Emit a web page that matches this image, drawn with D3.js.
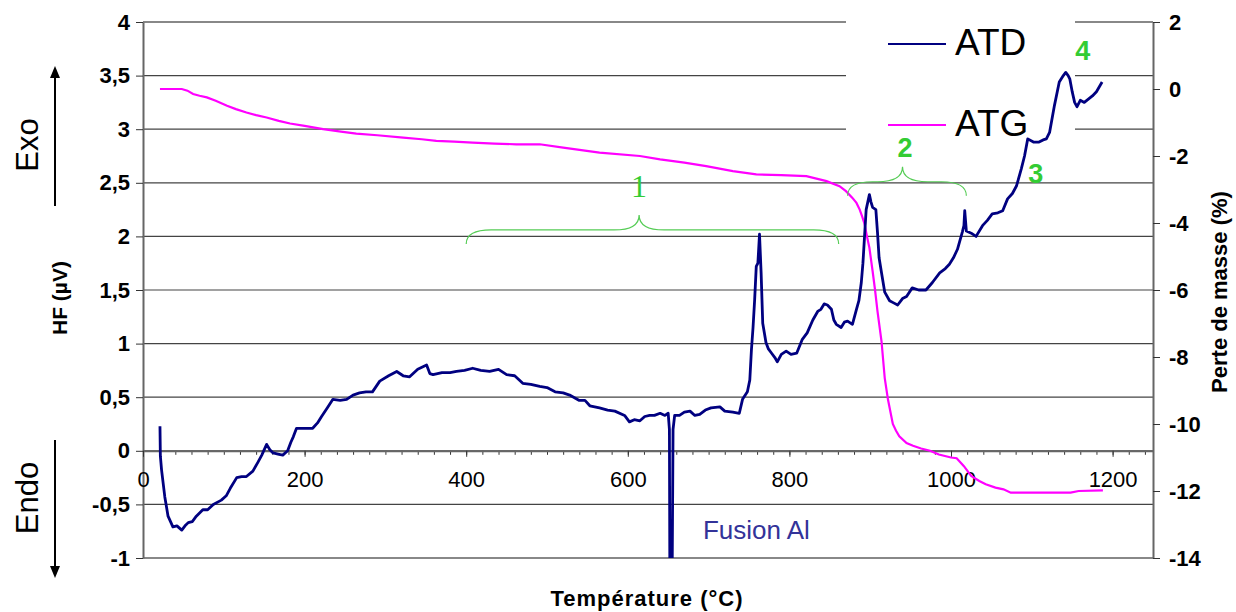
<!DOCTYPE html>
<html>
<head>
<meta charset="utf-8">
<script src="https://cdn.jsdelivr.net/npm/d3@7"></script>
<style>
  body { margin: 0; background: #fff; }
  svg { display: block; font-family: "Liberation Sans", Arial, sans-serif; }
</style>
</head>
<body>
<svg id="chart" width="1236" height="612"></svg>
<script>
// ATD curve (temperature in °C, heat flow in µV)
let atdTemp = [21, 21.5, 23, 27, 31, 37, 42, 48, 52, 56, 61, 66, 74, 80, 87, 97, 103, 108, 116, 122,
  128, 136, 142, 147, 153, 157, 161, 167, 173, 179, 183, 186, 190, 200, 210, 216, 221, 228, 235, 244,
  252, 260, 268, 276, 284, 293, 304, 314, 322, 330, 340, 351, 355, 359, 370, 380, 388, 398, 408, 418,
  429, 440, 450, 460, 470, 480, 491, 500, 510, 520, 528, 540, 547, 553, 565, 575, 584, 596, 602, 608,
  615, 621, 627, 633, 640, 646, 650, 651.5, 652, 655, 656, 658, 664, 670, 677, 683, 689, 696, 703, 714,
  720, 730, 738, 742, 748, 751, 753, 755, 757, 759, 761, 763, 765, 767, 771, 774, 778, 782, 785, 790,
  796, 802, 809, 816, 822, 829, 835, 839, 843, 847, 852, 855, 858, 864, 868, 872, 878, 883, 886, 889,
  891, 893, 895, 897, 899, 901, 903, 907, 909, 911, 914, 918, 924, 929, 934, 940, 945, 952, 960, 969,
  977, 986, 993, 998, 1003, 1008, 1014, 1016, 1017, 1019, 1025, 1031, 1039, 1045, 1051, 1058, 1064, 1070, 1076, 1081,
  1087, 1091, 1095, 1102, 1109, 1114, 1118, 1122, 1128, 1134, 1139, 1142, 1145, 1147, 1150, 1153, 1156, 1160, 1165, 1170,
  1175, 1180, 1187];
let atdHF = [0.23, -0.05, -0.18, -0.43, -0.61, -0.71, -0.70, -0.74, -0.70, -0.67, -0.66, -0.61, -0.55, -0.55, -0.50, -0.46, -0.42, -0.35, -0.25, -0.24,
  -0.24, -0.19, -0.11, -0.04, 0.06, 0.01, -0.02, -0.03, -0.04, 0.00, 0.08, 0.13, 0.21, 0.21, 0.21, 0.26, 0.32, 0.40, 0.48, 0.47,
  0.48, 0.52, 0.54, 0.55, 0.55, 0.65, 0.70, 0.74, 0.70, 0.69, 0.76, 0.80, 0.72, 0.71, 0.73, 0.73, 0.74, 0.75, 0.77, 0.75,
  0.74, 0.76, 0.71, 0.70, 0.63, 0.62, 0.60, 0.59, 0.55, 0.54, 0.52, 0.47, 0.47, 0.42, 0.40, 0.38, 0.37, 0.33, 0.27, 0.29,
  0.28, 0.32, 0.33, 0.33, 0.35, 0.33, 0.35, 0.20, -1.05, -1.05, 0.20, 0.33, 0.33, 0.36, 0.37, 0.33, 0.34, 0.38, 0.40, 0.41,
  0.37, 0.36, 0.35, 0.48, 0.55, 0.66, 0.94, 1.15, 1.41, 1.72, 1.75, 2.02, 1.66, 1.19, 1.01, 0.95, 0.91, 0.87, 0.83, 0.90,
  0.93, 0.90, 0.91, 1.04, 1.10, 1.22, 1.30, 1.32, 1.37, 1.36, 1.32, 1.22, 1.18, 1.15, 1.20, 1.21, 1.18, 1.32, 1.40, 1.57,
  1.75, 2.00, 2.25, 2.32, 2.39, 2.32, 2.27, 2.25, 2.04, 1.80, 1.66, 1.48, 1.40, 1.38, 1.36, 1.42, 1.44, 1.52, 1.50, 1.50,
  1.57, 1.66, 1.70, 1.74, 1.80, 1.88, 2.04, 2.10, 2.24, 2.05, 2.03, 2.00, 2.10, 2.15, 2.21, 2.22, 2.24, 2.35, 2.40, 2.47,
  2.63, 2.75, 2.91, 2.88, 2.88, 2.90, 2.91, 2.97, 3.22, 3.44, 3.50, 3.53, 3.50, 3.47, 3.35, 3.25, 3.21, 3.27, 3.25, 3.28,
  3.31, 3.35, 3.44];

// ATG curve (temperature in °C, mass loss in %)
let atgTemp = [21, 48, 55, 62, 70, 79, 90, 104, 115, 128, 140, 153, 168, 182, 200, 223, 245, 264, 290, 322,
  345, 363, 385, 408, 435, 462, 491, 520, 565, 615, 640, 670, 697, 730, 759, 790, 821, 846, 862, 870,
  878, 883, 887, 890, 893, 896, 899, 903, 906, 909, 914, 918, 922, 928, 932, 936, 945, 953, 963, 974,
  985, 1000, 1007, 1016, 1025, 1035, 1043, 1055, 1065, 1074, 1096, 1148, 1158, 1188];
let atgMass = [0, 0, -0.05, -0.15, -0.2, -0.25, -0.35, -0.5, -0.6, -0.7, -0.78, -0.85, -0.95, -1.03, -1.1, -1.2, -1.27, -1.33, -1.38, -1.45,
  -1.5, -1.55, -1.57, -1.6, -1.63, -1.65, -1.65, -1.75, -1.9, -2.0, -2.1, -2.2, -2.3, -2.45, -2.55, -2.57, -2.6, -2.75, -2.9, -3.05,
  -3.25, -3.4, -3.6, -3.8, -4.03, -4.4, -4.74, -5.44, -6.0, -6.63, -7.53, -8.63, -9.27, -10.0, -10.2, -10.37, -10.57, -10.65, -10.73, -10.8,
  -10.91, -11.0, -11.02, -11.26, -11.55, -11.7, -11.8, -11.9, -11.95, -12.05, -12.05, -12.05, -12.0, -11.98];

let hfTicks = [-1, -0.5, 0, 0.5, 1, 1.5, 2, 2.5, 3, 3.5, 4];
let massTicks = [-14, -12, -10, -8, -6, -4, -2, 0, 2];
let tempTicks = [0, 200, 400, 600, 800, 1000, 1200];

let seriesNames = ["ATD", "ATG"];
let seriesColors = ["#000080", "#ff00ff"];

// zones marked with braces: [start, tip, end] in °C
let zones = [
  { label: "1", from: 400, tip: 614, to: 861, level: 2.06 },
  { label: "2", from: 872, tip: 940, to: 1019, level: 2.51 }
];
let peakLabels = [
  { label: "3", temp: 1105, hf: 2.50 },
  { label: "4", temp: 1163, hf: 3.65 }
];

let svg = d3.select("#chart");
let green = "#33cc33";

let x = d3.scaleLinear().domain([0, 1250]).range([143, 1153]);
let yHF = d3.scaleLinear().domain([-1, 4]).range([558, 22]);
let yMass = d3.scaleLinear().domain([-14, 2]).range([558, 22]);

let fmt = d => String(d).replace(".", ",");

// gridlines
svg.append("g")
  .selectAll("line")
  .data(hfTicks)
  .join("line")
  .attr("x1", x(0))
  .attr("x2", x(1250))
  .attr("y1", d => yHF(d))
  .attr("y2", d => yHF(d))
  .attr("stroke", d => (d == 4 || d == -1) ? "#888" : "#444")
  .attr("stroke-width", d => (d == 4 || d == -1) ? 2 : 1.2);

// white box behind the legend
svg.append("rect")
  .attr("x", 846).attr("y", 8)
  .attr("width", 229).attr("height", 142)
  .attr("fill", "#fff");

// left axis
let leftAxis = svg.append("g")
  .attr("transform", `translate(${x(0)},0)`)
  .call(d3.axisLeft(yHF).tickValues(hfTicks).tickFormat(fmt).tickSize(7).tickPadding(6).tickSizeOuter(0));
leftAxis.selectAll("text").style("font-size", "22px").style("font-weight", "bold").attr("fill", "#000");

// right axis
let rightAxis = svg.append("g")
  .attr("transform", `translate(${x(1250)},0)`)
  .call(d3.axisRight(yMass).tickValues(massTicks).tickFormat(fmt).tickSize(7).tickPadding(9).tickSizeOuter(0));
rightAxis.selectAll("text").style("font-size", "22px").style("font-weight", "bold").attr("fill", "#000");

// x axis on HF = 0
let minor = d3.range(0, 1251, 20);
svg.append("g")
  .attr("transform", `translate(0,${yHF(0)})`)
  .call(d3.axisBottom(x).tickValues(minor).tickFormat("").tickSize(4).tickSizeOuter(0))
  .call(g => g.select(".domain").remove());
let xAxis = svg.append("g")
  .attr("transform", `translate(0,${yHF(0)})`)
  .call(d3.axisBottom(x).tickValues(tempTicks).tickFormat(d3.format("d")).tickSize(6).tickPadding(15).tickSizeOuter(0));
xAxis.selectAll("text").style("font-size", "22px").attr("fill", "#000");

svg.selectAll(".domain").attr("stroke", "#666").attr("stroke-width", 2);
svg.selectAll(".tick line").attr("stroke", "#333");

// curves
let atd = atdTemp.map((t, i) => [t, atdHF[i]]);
let atg = atgTemp.map((t, i) => [t, atgMass[i]]);

svg.append("clipPath").attr("id", "plot")
  .append("rect").attr("x", x(0)).attr("y", yHF(4)).attr("width", x(1250) - x(0)).attr("height", yHF(-1) - yHF(4));

let plot = svg.append("g").attr("clip-path", "url(#plot)");

plot.append("path")
  .datum(atg)
  .attr("fill", "none")
  .attr("stroke", seriesColors[1])
  .attr("stroke-width", 2.2)
  .attr("d", d3.line().x(d => x(d[0])).y(d => yMass(d[1])));

plot.append("path")
  .datum(atd)
  .attr("fill", "none")
  .attr("stroke", seriesColors[0])
  .attr("stroke-width", 2.8)
  .attr("stroke-linejoin", "round")
  .attr("d", d3.line().x(d => x(d[0])).y(d => yHF(d[1])));

// legend
let legend = svg.append("g")
  .selectAll("g")
  .data(seriesNames)
  .join("g")
  .attr("transform", (d, i) => `translate(888,${44 + i * 81})`);
legend.append("line")
  .attr("x1", 0).attr("x2", 58)
  .attr("stroke", (d, i) => seriesColors[i])
  .attr("stroke-width", 2);
legend.append("text")
  .attr("x", 67).attr("y", 11)
  .style("font-size", "37px")
  .text(d => d);

// braces for zones 1 and 2
function brace(z) {
  let x0 = x(z.from), x1 = x(z.to), xm = x(z.tip);
  let yh = yHF(z.level), yEnd = yh + 14, yTip = yh - 15, w = 25;
  return `M${x0},${yEnd} Q${x0},${yh} ${x0 + w},${yh} L${xm - w},${yh} Q${xm},${yh} ${xm},${yTip}` +
    ` Q${xm},${yh} ${xm + w},${yh} L${x1 - w},${yh} Q${x1},${yh} ${x1},${yEnd}`;
}
svg.append("g")
  .selectAll("path")
  .data(zones)
  .join("path")
  .attr("d", brace)
  .attr("fill", "none")
  .attr("stroke", "#55cc55")
  .attr("stroke-width", 1.2);

svg.append("text")
  .attr("x", x(zones[0].tip)).attr("y", yHF(2.37))
  .attr("text-anchor", "middle")
  .style("font-family", "'Liberation Serif', serif")
  .style("font-size", "32px")
  .attr("fill", green)
  .text(zones[0].label);

svg.append("text")
  .attr("x", x(943)).attr("y", yHF(2.74))
  .attr("text-anchor", "middle")
  .style("font-size", "27px").style("font-weight", "bold")
  .attr("fill", green)
  .text(zones[1].label);

svg.append("g")
  .selectAll("text")
  .data(peakLabels)
  .join("text")
  .attr("x", d => x(d.temp)).attr("y", d => yHF(d.hf))
  .attr("text-anchor", "middle")
  .style("font-size", "27px").style("font-weight", "bold")
  .attr("fill", green)
  .text(d => d.label);

svg.append("text")
  .attr("x", x(693)).attr("y", yHF(-0.82))
  .style("font-size", "26px")
  .attr("fill", "#333399")
  .text("Fusion Al");

// axis titles
svg.append("text")
  .attr("x", 647).attr("y", 606)
  .attr("text-anchor", "middle")
  .style("font-size", "22px").style("font-weight", "bold").style("letter-spacing", "1px")
  .text("Température (°C)");

svg.append("text")
  .attr("transform", "translate(67,298) rotate(-90)")
  .attr("text-anchor", "middle")
  .style("font-size", "21px").style("font-weight", "bold")
  .text("HF (µV)");

svg.append("text")
  .attr("transform", "translate(1227,292) rotate(-90)")
  .attr("text-anchor", "middle")
  .style("font-size", "22px").style("font-weight", "bold")
  .text("Perte de masse (%)");

// Exo / Endo arrows
svg.append("text")
  .attr("transform", "translate(38,145) rotate(-90)")
  .attr("text-anchor", "middle")
  .style("font-size", "31px")
  .text("Exo");
svg.append("text")
  .attr("transform", "translate(38,498) rotate(-90)")
  .attr("text-anchor", "middle")
  .style("font-size", "31px")
  .text("Endo");

svg.append("line").attr("x1", 55).attr("x2", 55).attr("y1", 206).attr("y2", 76)
  .attr("stroke", "#000").attr("stroke-width", 2);
svg.append("path").attr("d", "M55,66 L50,78 L60,78 Z").attr("fill", "#000");
svg.append("line").attr("x1", 55).attr("x2", 55).attr("y1", 440).attr("y2", 568)
  .attr("stroke", "#000").attr("stroke-width", 2);
svg.append("path").attr("d", "M55,578 L50,566 L60,566 Z").attr("fill", "#000");
</script>
</body>
</html>
